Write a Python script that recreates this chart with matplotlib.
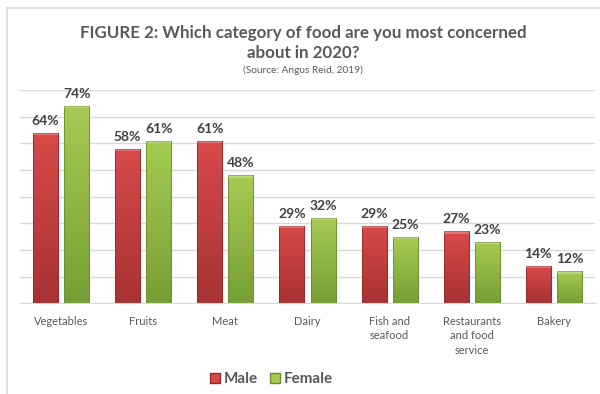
import numpy as np
import matplotlib.pyplot as plt
from matplotlib.lines import Line2D
from matplotlib.patches import Rectangle
from matplotlib.colors import LinearSegmentedColormap

plt.rcParams['font.family'] = ['Lato', 'DejaVu Sans']

categories = ["Vegetables", "Fruits", "Meat", "Dairy", "Fish and\nseafood",
              "Restaurants\nand food\nservice", "Bakery"]
male = [64, 58, 61, 29, 29, 27, 14]
female = [74, 61, 48, 32, 25, 23, 12]
series_names = ["Male", "Female"]

red_top, red_bot = "#D84A4A", "#A83232"
green_top, green_bot = "#A6CB52", "#779E35"

fig = plt.figure(figsize=(6.0, 3.94), dpi=100)
ax = fig.add_axes([0.0333, 0.2302, 0.9584, 0.5414])

x = np.arange(len(categories))
w = 0.305
off = 0.19

def gradient_bars(xs, vals, top, bot, edge):
    cmap = LinearSegmentedColormap.from_list("g", [bot, top])
    grad = np.linspace(0, 1, 256).reshape(-1, 1)
    bars = ax.bar(xs, vals, width=w, color="none", edgecolor=edge, linewidth=0.6, zorder=3)
    for b in bars:
        x0, y0 = b.get_x(), b.get_y()
        bw, bh = b.get_width(), b.get_height()
        im = ax.imshow(grad, cmap=cmap, origin="lower", aspect="auto",
                       extent=[x0, x0 + bw, y0, y0 + bh], zorder=2)
        clip = Rectangle((x0, y0), bw, bh, transform=ax.transData)
        im.set_clip_path(clip)
        # bevel highlight along the top of the bar
        ax.add_patch(Rectangle((x0, y0 + bh - 0.9), bw, 0.9, facecolor="white",
                               alpha=0.25, linewidth=0, zorder=3))
    return bars

bm = gradient_bars(x - off, male, red_top, red_bot, "#8E2A2A")
bf = gradient_bars(x + off, female, green_top, green_bot, "#6A8C2E")

for xs, vals in ((x - off, male), (x + off, female)):
    for xi, v in zip(xs, vals):
        ax.text(xi, v + 2.2, f"{v}%", ha="center", va="bottom", fontsize=10,
                fontweight="bold", color="#404040")

ax.set_xlim(-0.5, len(categories) - 0.5)
ax.set_ylim(0, 80)
ax.set_yticks(np.arange(0, 81, 10))
ax.yaxis.grid(True, color="#D9D9D9", linewidth=1.0, zorder=0)
ax.set_axisbelow(True)
ax.tick_params(axis="y", left=False, labelleft=False)
ax.set_xticks(x)
ax.set_xticklabels(categories, fontsize=8, color="#595959", linespacing=1.4)
ax.tick_params(axis="x", length=0, pad=9)
for s in ("top", "right", "left"):
    ax.spines[s].set_visible(False)
ax.spines["bottom"].set_color("#D9D9D9")
ax.set_facecolor("none")

fig.text(0.505, 0.891, "FIGURE 2: Which category of food are you most concerned\nabout in 2020?",
         ha="center", va="center", fontsize=12.2, fontweight="bold", color="#595959",
         linespacing=1.3)
fig.text(0.505, 0.822, "(Source: Angus Reid, 2019)", ha="center", va="center",
         fontsize=7.3, color="#595959")

handles = [Line2D([], [], marker="s", linestyle="none", markersize=7,
                  markerfacecolor=red_top, markeredgecolor="#8E2A2A"),
           Line2D([], [], marker="s", linestyle="none", markersize=7,
                  markerfacecolor=green_top, markeredgecolor="#6A8C2E")]
fig.legend(handles, series_names, loc="center", bbox_to_anchor=(0.45, 0.038),
           ncol=2, frameon=False, handletextpad=0.1, columnspacing=0.6,
           handlelength=1.0, prop={"size": 11, "weight": "bold"}, labelcolor="#595959")

# chart frame edges
fig.add_artist(Line2D([0.0117, 0.0117], [0.0, 0.98], transform=fig.transFigure,
                      color="#D9D9D9", linewidth=1.2))
fig.add_artist(Line2D([0.0117, 1.0], [0.98, 0.98], transform=fig.transFigure,
                      color="#D9D9D9", linewidth=1.2))

fig.savefig("out.png", dpi=100)
